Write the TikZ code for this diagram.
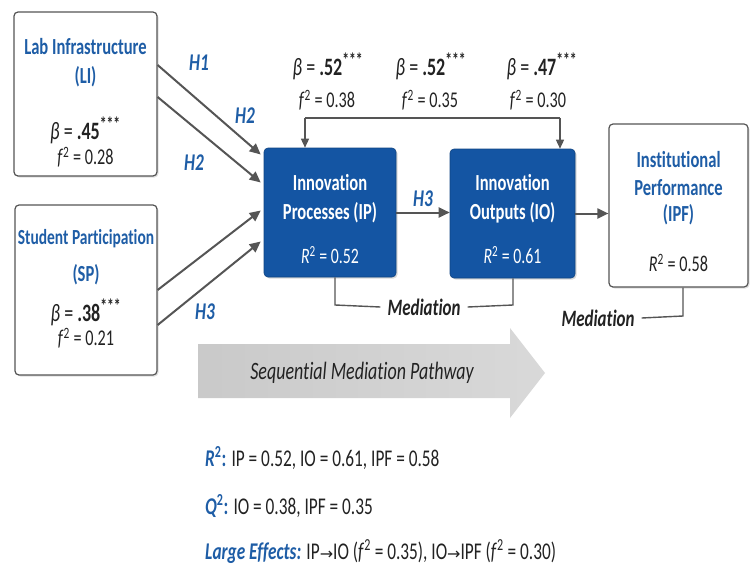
\documentclass[tikz,border=0pt]{standalone}
\usepackage{fontspec}
\setmainfont[FakeStretch=0.72,Ligatures=NoCommon]{Carlito}
\newfontfamily\arrowfont{DejaVu Sans}
\usetikzlibrary{arrows.meta,shadows,calc}
\definecolor{bltext}{HTML}{1E5DA6}
\definecolor{boxbl}{HTML}{1455A3}
\definecolor{dg}{HTML}{555555}
\definecolor{txt}{HTML}{222222}
\tikzset{
  wbox/.style={draw=dg, line width=1.2pt, rounded corners=4pt, fill=white, inner sep=0pt,
    drop shadow={opacity=0.25, shadow xshift=1.5pt, shadow yshift=-1.5pt}},
  bbox/.style={draw=boxbl!80!black, line width=0.6pt, rounded corners=4pt, fill=boxbl, inner sep=0pt,
    drop shadow={opacity=0.3, shadow xshift=1.5pt, shadow yshift=-1.5pt}},
  ttl/.style={text=bltext, font=\fontsize{23}{26}\selectfont\bfseries, inner sep=0pt},
  wttl/.style={text=white, font=\fontsize{23}{26}\selectfont\bfseries, inner sep=0pt},
  val/.style={text=txt, font=\fontsize{22.5}{26}\selectfont, inner sep=0pt},
  bval/.style={text=txt, font=\fontsize{25}{28}\selectfont, inner sep=0pt},
  wval/.style={text=white, font=\fontsize{22}{26}\selectfont, inner sep=0pt},
  hyp/.style={text=bltext, font=\fontsize{24}{28}\selectfont\bfseries\itshape, inner sep=0pt},
  medtxt/.style={text=txt, font=\fontsize{23.5}{28}\selectfont\bfseries\itshape, inner sep=7pt},
  arr/.style={draw=dg, line width=2pt, -{Triangle[length=11pt,width=10pt]}},
  thin/.style={draw=dg, line width=1.4pt},
  thinarr/.style={draw=dg, line width=1.4pt, -{Triangle[length=9pt,width=8pt]}},
  bot/.style={text=txt, font=\fontsize{24}{28}\selectfont, inner sep=0pt, anchor=west},
}
\newcommand{\bstar}[1]{\textbf{#1}\textsuperscript{\textbf{\fontsize{19}{20}\selectfont ***}}}
\newcommand{\fsq}{\textit{f}\textsuperscript{2}}
\newcommand{\rsq}{\textit{R}\textsuperscript{2}}
\begin{document}
\begin{tikzpicture}[x=1pt,y=-1pt]
\useasboundingbox (0,0) rectangle (752,567);

% big gray arrow
\shade[left color=gray!42, right color=gray!30]
  (198,344) -- (510,344) -- (510,328) -- (545,373) -- (510,418) -- (510,398) -- (198,398) -- cycle;
\node[text=txt, font=\fontsize{25}{28}\selectfont\itshape] (seq) at (362,373) {Sequential Mediation Pathway};

% boxes
\node[wbox, minimum width=143pt, minimum height=164pt] (li) at (85.5,94) {};
\node[wbox, minimum width=142pt, minimum height=170pt] (sp) at (86,290) {};
\node[bbox, minimum width=132pt, minimum height=129pt] (ip) at (330,212.5) {};
\node[bbox, minimum width=125pt, minimum height=129pt] (io) at (512.5,213.5) {};
\node[wbox, minimum width=139pt, minimum height=163pt] (ipf) at (678.5,205.5) {};

% LI text
\node[ttl] (li1) at (85.5,47) {Lab Infrastructure};
\node[ttl] (li2) at (85.5,77) {(LI)};
\node[bval] (li3) at (85.5,130) {\textit{β} = \bstar{.45}};
\node[val] (li4) at (85.5,157) {\fsq{} = 0.28};

% SP text
\node[ttl, font=\fontsize{21.5}{26}\selectfont\bfseries] (sp1) at (86,239) {Student Participation};
\node[ttl] (sp2) at (86,275) {(SP)};
\node[bval] (sp3) at (86,312) {\textit{β} = \bstar{.38}};
\node[val] (sp4) at (86,338) {\fsq{} = 0.21};

% IP text
\node[wttl] (ip1) at (330,183) {Innovation};
\node[wttl] (ip2) at (330,213) {Processes (IP)};
\node[wval] (ip3) at (330,255) {\rsq{} = 0.52};

% IO text
\node[wttl] (io1) at (512.5,183) {Innovation};
\node[wttl] (io2) at (512.5,213) {Outputs (IO)};
\node[wval] (io3) at (512.5,255) {\rsq{} = 0.61};

% IPF text
\node[ttl] (ipf1) at (678.5,160) {Institutional};
\node[ttl] (ipf2) at (678.5,188) {Performance};
\node[ttl] (ipf3) at (678.5,215) {(IPF)};
\node[val] (ipf4) at (678.5,263) {\rsq{} = 0.58};

% left arrows
\draw[arr] ($(li.east)+(0,-29)$) -- ($(ip.west)+(-3,-58)$);
\draw[arr] ($(li.east)+(0,3)$) -- ($(ip.west)+(-3,-30)$);
\draw[arr] ($(sp.east)+(0,0)$) -- ($(ip.west)+(-3,-2)$);
\draw[arr] ($(sp.east)+(0,35)$) -- ($(ip.west)+(-3,29)$);

\node[hyp] (h1) at (199,63) {H1};
\node[hyp] (h2a) at (245,116) {H2};
\node[hyp] (h2b) at (194,163) {H2};
\node[hyp] (h3a) at (205,312) {H3};

% middle arrows
\draw[arr] (ip.east) -- (ip.east -| io.west);
\draw[arr] (io.east) -- (io.east -| ipf.west);
\node[hyp] (h3b) at (423,199) {H3};

% top feedback bracket
\coordinate (tl) at (305,118);
\coordinate (tr) at (560,118);
\draw[thin] (tl) -- (tr);
\draw[thinarr] (tl) -- (tl |- ip.north);
\draw[thinarr] (tr) -- (tr |- io.north);

\node[bval] (b1) at (328,66) {\textit{β} = \bstar{.52}};
\node[val] (f1) at (327,100) {\fsq{} = 0.38};
\node[bval] (b2) at (431,66) {\textit{β} = \bstar{.52}};
\node[val] (f2) at (430,100) {\fsq{} = 0.35};
\node[bval] (b3) at (542,66) {\textit{β} = \bstar{.47}};
\node[val] (f3) at (538,100) {\fsq{} = 0.30};

% mediation brackets
\coordinate (m1l) at (335,305);
\coordinate (m1r) at (513,305);
\node[medtxt] (med1) at (424,307) {Mediation};
\draw[thin] (m1l |- ip.south) -- (m1l) -- (med1.west);
\draw[thin] (med1.east) -- (m1r) -- (m1r |- io.south);

\coordinate (m2) at (683,316);
\node[medtxt] (med2) at (598,318) {Mediation};
\draw[thin] (m2 |- ipf.south) -- (m2) -- (med2.east);

% bottom summary
\node[bot] (s1) at (205,458) {\textcolor{bltext}{\textbf{\textit{R}\textsuperscript{2}:}} IP = 0.52, IO = 0.61, IPF = 0.58};
\node[bot] (s2) at (205,506) {\textcolor{bltext}{\textbf{\textit{Q}\textsuperscript{2}:}} IO = 0.38, IPF = 0.35};
\node[bot] (s3) at (205,552) {\textcolor{bltext}{\textbf{\textit{Large Effects:}}} IP{\arrowfont\fontsize{16}{18}\selectfont →}IO (\fsq{} = 0.35), IO{\arrowfont\fontsize{16}{18}\selectfont →}IPF (\fsq{} = 0.30)};
\end{tikzpicture}
\end{document}
